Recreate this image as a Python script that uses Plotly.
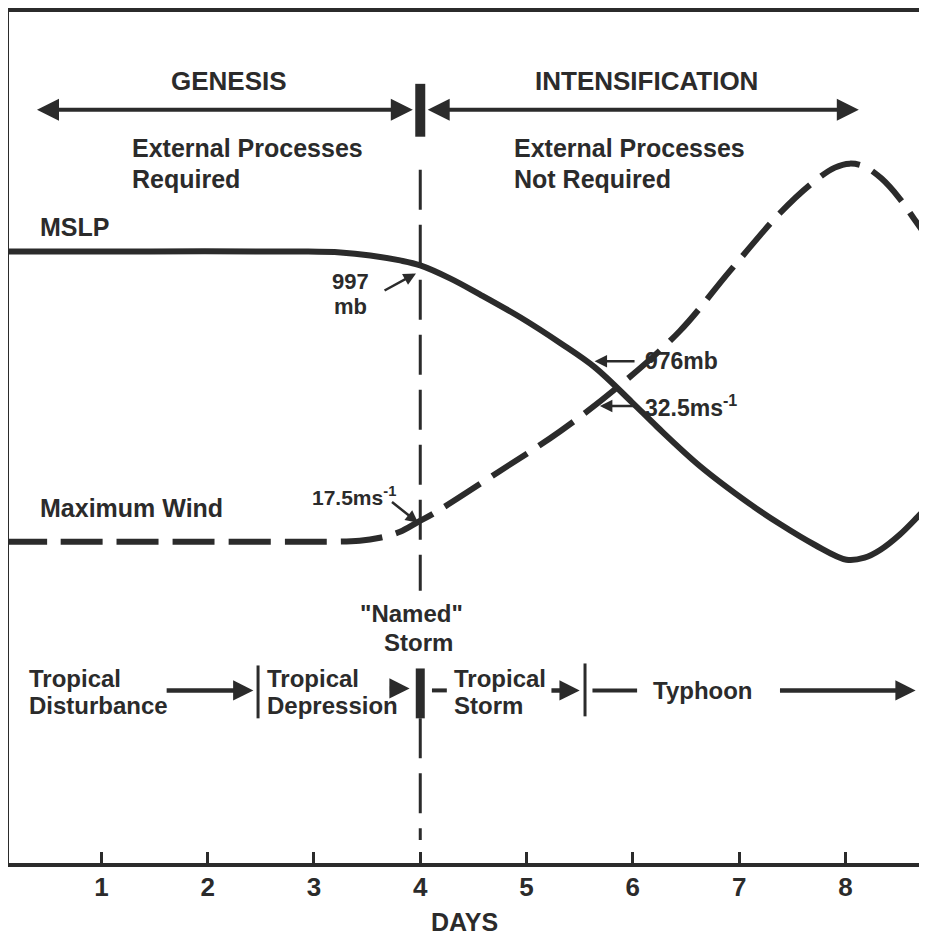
import plotly.graph_objects as go

# ---------------- data (days on x, relative level on y) ----------------
mslp_day = [0.09, 1.46, 2.87, 3.25, 3.53, 3.81, 4.00, 4.28, 4.56, 4.94, 5.32, 5.64,
            5.99, 6.23, 6.63, 7.10, 7.38, 7.71, 8.01, 8.18, 8.33, 8.51, 8.68, 8.77]
mslp_level = [613, 613, 613, 612, 609, 604, 599, 586, 570, 547, 521, 497,
              462, 437, 398, 360, 340, 319, 304, 306, 314, 329, 347, 357]

wind_day = [0.09, 0.99, 1.93, 2.87, 3.43, 3.62, 3.81, 3.98, 4.12, 4.75, 5.32, 5.88,
            6.44, 6.91, 7.38, 7.67, 7.90, 8.04, 8.18, 8.34, 8.51, 8.65, 8.77]
wind_level = [322, 322, 322, 322, 323, 326, 332, 342, 350, 393, 433, 479,
              533, 593, 651, 680, 697, 701, 698, 686, 666, 645, 627]

day_ticks = [1, 2, 3, 4, 5, 6, 7, 8]
tick_labels = ["1", "2", "3", "4", "5", "6", "7", "8"]

named_storm_day = 4.0

INK = "#2b2b2b"
FONT = "Liberation Sans"

fig = go.Figure()

fig.add_trace(go.Scatter(x=mslp_day, y=mslp_level, mode="lines",
                         line=dict(color=INK, width=6, shape="spline"),
                         hoverinfo="skip", showlegend=False))
fig.add_trace(go.Scatter(x=wind_day, y=wind_level, mode="lines",
                         line=dict(color=INK, width=6, shape="spline", dash="42px,14px"),
                         hoverinfo="skip", showlegend=False))

shapes = []
# vertical dashed line at day 4
shapes.append(dict(type="line", xref="x", yref="y", x0=named_storm_day, x1=named_storm_day,
                   y0=695, y1=273, line=dict(color=INK, width=3, dash="40px,15px")))
shapes.append(dict(type="line", xref="x", yref="y", x0=named_storm_day, x1=named_storm_day,
                   y0=145, y1=23, line=dict(color=INK, width=3, dash="40px,15px")))
# thick bars at day 4
shapes.append(dict(type="line", xref="x", yref="y", x0=named_storm_day, x1=named_storm_day,
                   y0=781, y1=728, line=dict(color=INK, width=10)))
shapes.append(dict(type="line", xref="x", yref="y", x0=named_storm_day, x1=named_storm_day,
                   y0=195, y1=145, line=dict(color=INK, width=9)))
# thin separators
shapes.append(dict(type="line", xref="x", yref="y", x0=2.474, x1=2.474, y0=198, y1=145,
                   line=dict(color=INK, width=3)))
shapes.append(dict(type="line", xref="x", yref="y", x0=5.550, x1=5.550, y0=200, y1=147,
                   line=dict(color=INK, width=3)))
# short dashes
shapes.append(dict(type="line", xref="x", yref="y", x0=4.11, x1=4.25, y0=173, y1=173,
                   line=dict(color=INK, width=4)))
shapes.append(dict(type="line", xref="x", yref="y", x0=5.62, x1=6.04, y0=173, y1=173,
                   line=dict(color=INK, width=4)))
fig.update_layout(shapes=shapes)

ann = []


def text(x, y, s, size=25, xanchor="left", yanchor="middle", yref="y"):
    ann.append(dict(x=x, y=y, xref="x", yref=yref, text=s, showarrow=False,
                    xanchor=xanchor, yanchor=yanchor,
                    font=dict(family=FONT, size=size, color=INK, weight="bold")))


def arrow(x, y, ax, ay, width=4, both=False, size=1.0):
    ann.append(dict(x=x, y=y, ax=ax, ay=ay, xref="x", yref="y", axref="x", ayref="y",
                    text="", showarrow=True, arrowhead=2, arrowsize=size,
                    arrowwidth=width, arrowcolor=INK, standoff=0, startstandoff=0,
                    arrowside="end+start" if both else "end",
                    startarrowhead=2, startarrowsize=size))


text(2.20, 784, "GENESIS", size=26, xanchor="center")
text(6.13, 784, "INTENSIFICATION", size=26, xanchor="center")
arrow(3.93, 755, 0.38, 755, width=4, both=True, size=1.1)
arrow(4.07, 755, 8.14, 755, width=4, both=True, size=1.1)

text(1.27, 717, "External Processes")
text(1.27, 686, "Required")
text(4.86, 717, "External Processes")
text(4.86, 686, "Not Required")

text(0.40, 637, "MSLP")
text(3.34, 583, "997", size=22, xanchor="center")
text(3.34, 558, "mb", size=22, xanchor="center")
arrow(3.96, 591, 3.65, 573, width=2.5, size=1.0)

text(6.10, 503, "976mb", size=23)
arrow(5.64, 503, 6.03, 503, width=2.5, size=1.0)
text(6.10, 458, "32.5ms<sup>-1</sup>", size=23)
arrow(5.69, 458, 6.03, 458, width=2.5, size=1.0)

text(0.40, 356, "Maximum Wind")
text(2.96, 368, "17.5ms<sup>-1</sup>", size=21)
arrow(3.98, 341, 3.72, 363, width=2.5, size=1.0)

text(3.92, 250, "\"Named\"", size=24, xanchor="center")
text(3.98, 221, "Storm", size=24, xanchor="center")

text(0.30, 185, "Tropical", size=24)
text(0.30, 158, "Disturbance", size=24)
arrow(2.43, 173, 1.60, 173, width=4.5, size=0.9)
text(2.54, 185, "Tropical", size=24)
text(2.54, 158, "Depression", size=24)
arrow(3.90, 175, 3.70, 175, width=4.5, size=0.9)
text(4.30, 185, "Tropical", size=24)
text(4.30, 158, "Storm", size=24)
arrow(5.50, 173, 5.22, 173, width=4.5, size=0.9)
text(6.66, 173, "Typhoon", size=24, xanchor="center")
arrow(8.66, 173, 7.37, 173, width=4.5, size=0.9)

# axis title below the plot (paper reference so it is not hidden)
text(4.42, -59 / 853, "DAYS", size=25, xanchor="center", yref="paper")

fig.update_layout(annotations=ann)

fig.update_layout(
    width=911, height=930,
    margin=dict(l=1, r=0, t=2, b=75),
    paper_bgcolor="white", plot_bgcolor="white",
    font=dict(family=FONT, color=INK),
    showlegend=False,
    xaxis=dict(range=[0.131, 8.692], tickmode="array", tickvals=day_ticks, ticktext=tick_labels,
               ticks="inside", ticklen=11, tickwidth=2.5, tickcolor=INK,
               showgrid=False, zeroline=False, showline=True, linewidth=4, linecolor=INK,
               mirror=True, tickfont=dict(family=FONT, size=26, color=INK, weight="bold"),
               ticklabelstandoff=-2, fixedrange=True),
    yaxis=dict(range=[0, 853], showgrid=False, zeroline=False, showticklabels=False,
               ticks="", showline=True, linewidth=3, linecolor=INK, fixedrange=True),
)

fig.write_html("out.html")
